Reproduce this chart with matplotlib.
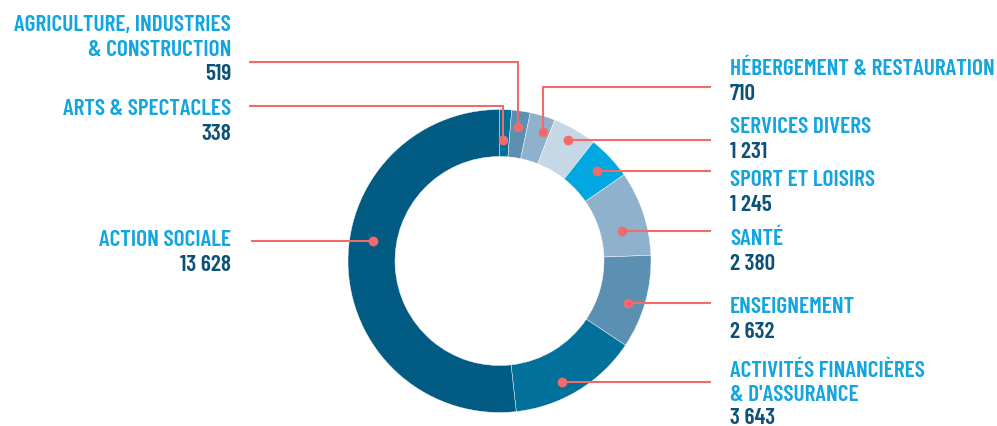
import numpy as np
import matplotlib
matplotlib.use("Agg")
import matplotlib.pyplot as plt
from matplotlib import font_manager as fm

# ---- data (order: clockwise from 12 o'clock) ----
categories = ["ARTS & SPECTACLES",
              "AGRICULTURE, INDUSTRIES\n& CONSTRUCTION",
              "HÉBERGEMENT & RESTAURATION",
              "SERVICES DIVERS",
              "SPORT ET LOISIRS",
              "SANTÉ",
              "ENSEIGNEMENT",
              "ACTIVITÉS FINANCIÈRES\n& D'ASSURANCE",
              "ACTION SOCIALE"]
values = [338, 519, 710, 1231, 1245, 2380, 2632, 3643, 13628]
value_labels = ["338", "519", "710", "1 231", "1 245", "2 380", "2 632", "3 643", "13 628"]

# ---- style / layout ----
colors = ["#01719b", "#5b90b2", "#90b1cb", "#c6d7e6", "#00a7e1",
          "#90b1cb", "#5b90b2", "#01719b", "#015b83"]
title_color = "#12a5df"
num_color = "#0c5177"
lead_color = "#f26b6b"

W, H = 997, 427
cx, cy, R, ring = 499.5, 262.0, 151.5, 47.0

side = ["L", "L", "R", "R", "R", "R", "R", "R", "L"]
title_y = [107, 23, 67, 125, 178, 237, 305, 369, 238]   # cap centres, px from top
line_step = [24.5, 24.5, 24.5, 24.5, 24.5, 24.5, 24.5, 23.5, 24.5]
dot_ang = [1.7, 7.9, 18.6, 29.5, 47.3, 76.3, 108.1, 152.7, 279.0]
dot_rad = [121, 135, 136, 139, 133, 126, 135, 136, 128]
elbow_y = [107, 63, 88, None, None, None, None, None, None]

names = {f.name for f in fm.fontManager.ttflist}
cands = ["Barlow Condensed", "Roboto Condensed", "Fira Sans Condensed",
         "Liberation Sans Narrow", "Roboto"]
main = next((c for c in cands if c in names), "DejaVu Sans")
fam = [main, "DejaVu Sans"]
weight = "semibold"

fig = plt.figure(figsize=(W / 100, H / 100), dpi=100)
ax = fig.add_axes([0, 0, 1, 1])

# fit font size so the widest label matches the reference width (~265 px)
renderer = fig.canvas.get_renderer()
probe = fig.text(0, 0, "HÉBERGEMENT & RESTAURATION", fontsize=20,
                 fontweight=weight, family=fam)
wpx = probe.get_window_extent(renderer).width
probe.remove()
fs = min(18.0, 20 * 265.0 / wpx)
cap_half = 0.35 * fs * 100 / 72.0   # half cap height in px

ax.pie(values, colors=colors, startangle=-90, counterclock=True,
       radius=R, center=(cx, cy),
       wedgeprops=dict(width=ring, edgecolor="white", linewidth=0.3))
ax.set_xlim(0, W)
ax.set_ylim(H, 0)
ax.set_aspect("equal")
ax.axis("off")

for i, cat in enumerate(categories):
    a = np.deg2rad(dot_ang[i])
    dx = cx + dot_rad[i] * np.sin(a)
    dy = cy - dot_rad[i] * np.cos(a)
    if elbow_y[i] is not None:
        ey = elbow_y[i]
        x_end = 250 if side[i] == "L" else 710
        ax.plot([dx, dx, x_end], [dy, ey, ey], color=lead_color, lw=1.5,
                solid_joinstyle="miter", zorder=4)
    else:
        x_end = 252 if side[i] == "L" else 710
        ax.plot([dx, x_end], [dy, dy], color=lead_color, lw=1.5, zorder=4)
    ax.plot([dx], [dy], "o", color=lead_color, ms=6, zorder=5)

    lines = cat.split("\n")
    st = line_step[i]
    tx = 231 if side[i] == "L" else 730
    ha = "right" if side[i] == "L" else "left"
    for k, ln in enumerate(lines):
        ax.text(tx, title_y[i] + k * st + cap_half, ln, ha=ha, va="baseline",
                color=title_color, fontsize=fs, fontweight=weight, family=fam)
    yb = min(title_y[i] + len(lines) * st + cap_half, H - 0.5)
    ax.text(tx, yb, value_labels[i], ha=ha,
            va="baseline", color=num_color, fontsize=fs, fontweight=weight,
            family=fam)

fig.savefig("out.png", dpi=100)
